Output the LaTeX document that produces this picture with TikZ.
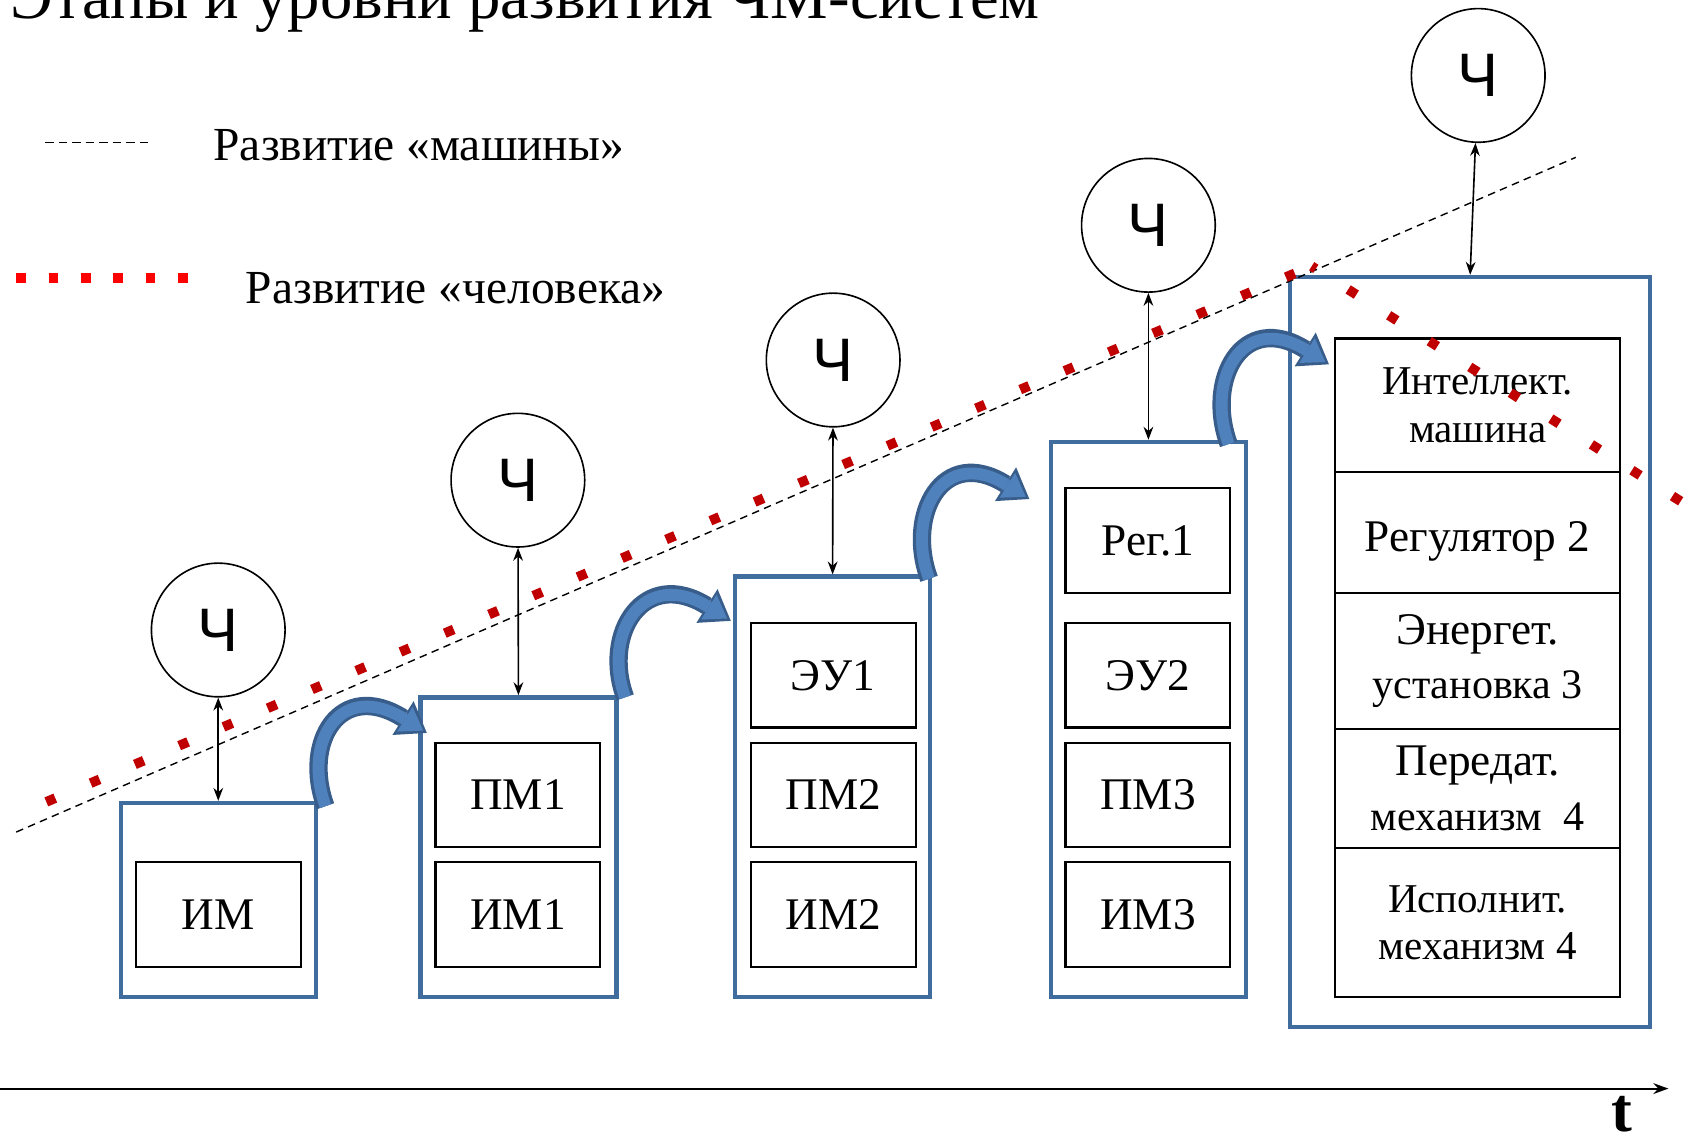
\documentclass[tikz,border=0pt]{standalone}
\usepackage{fontspec}
\setmainfont{Liberation Serif}
\newfontfamily\chfont{Liberation Sans}
\usetikzlibrary{arrows.meta}

\definecolor{stageblue}{RGB}{65,108,158}
\definecolor{jumpedge}{RGB}{56,93,138}
\definecolor{jumpfill}{RGB}{79,129,189}
\definecolor{growred}{RGB}{192,0,0}
\definecolor{legred}{RGB}{255,0,0}

\newcommand\bigtxt{\fontsize{42}{46}\selectfont}

\begin{document}
\begin{tikzpicture}[x=1pt,y=-1pt,
  stage/.style={draw=stageblue,line width=4pt,inner sep=0pt},
  part/.style={draw,line width=2pt,inner sep=0pt,align=center},
  cell/.style={part,minimum width=153pt,minimum height=97pt,
    font=\fontsize{42}{46}\selectfont},
  bigcell/.style={part,minimum width=264pt,font=\fontsize{38}{44}\selectfont},
  man/.style={circle,draw,line width=1.5pt,minimum size=124pt,inner sep=0pt,
    font=\chfont\fontsize{57}{57}\selectfont},
  link/.style={line width=1.5pt,
    {Stealth[length=12pt,width=9pt]}-{Stealth[length=12pt,width=9pt]}},
  machline/.style={line width=1.3pt,dash pattern=on 7pt off 5pt},
  humanline/.style={growred,line width=9pt,dash pattern=on 9pt off 35.6pt},
  jump/.style={jumpedge,line width=17pt,
    -{Triangle[length=26pt,width=37pt,line width=0pt]}},
  jumpin/.style={jumpfill,line width=11pt,shorten >=4pt,
    -{Triangle[length=20pt,width=27pt,line width=0pt]}},
  legend/.style={anchor=base west,inner sep=0pt,font=\fontsize{44}{44}\selectfont}]

  \useasboundingbox (0,0) rectangle (1568,1056);
  \clip (0,0) rectangle (1568,1056);

  % heading, cut by the page top
  \node[anchor=base west,inner sep=0pt,font=\fontsize{60}{60}\selectfont] (title)
    at (10,17) {Этапы и уровни развития ЧМ-систем};

  % legend
  \coordinate (lm1) at (42,132);
  \coordinate (lm2) at (140,132);
  \draw[line width=1.4pt,dash pattern=on 8pt off 4.5pt] (lm1) -- (lm2);
  \node[legend] (lmtext) at (198,149) {Развитие «машины»};
  \coordinate (lh1) at (15,258);
  \coordinate (lh2) at (174,258);
  \draw[legred,line width=9pt,dash pattern=on 9pt off 21pt] (lh1) -- (lh2);
  \node[legend] (lhtext) at (228,282) {Развитие «человека»};

  % stages of the machine
  \node[stage,minimum width=181pt,minimum height=180pt] (m1) at (202.5,835) {};
  \node[stage,minimum width=182pt,minimum height=278pt] (m2) at (481,786) {};
  \node[stage,minimum width=181pt,minimum height=390pt] (m3) at (772.5,730) {};
  \node[stage,minimum width=181pt,minimum height=515pt] (m4) at (1065.5,667.5) {};
  \node[stage,minimum width=334pt,minimum height=696pt] (m5) at (1364,605) {};

  \node[cell] (im0) at (202.5,848.5) {ИМ};

  \node[cell] (pm1) at (480.5,737.5) {ПМ1};
  \node[cell] (im1) at (480.5,848.5) {ИМ1};

  \node[cell] (eu1) at (773,626.5) {ЭУ1};
  \node[cell] (pm2) at (773,737.5) {ПМ2};
  \node[cell] (im2) at (773,848.5) {ИМ2};

  \node[cell] (rg1) at (1065,501.5) {Рег.1};
  \node[cell] (eu2) at (1065,626.5) {ЭУ2};
  \node[cell] (pm3) at (1065,737.5) {ПМ3};
  \node[cell] (im3) at (1065,848.5) {ИМ3};

  \node[bigcell,minimum height=124pt] (ai) at (1371,376) {Интеллект.\\машина};
  \node[bigcell,minimum height=112pt] (rg2) at (1371,494)
    {\bigtxt\rule{0pt}{44pt}Регулятор 2};
  \node[bigcell,minimum height=126pt] (eu3) at (1371,613)
    {{\bigtxt Энергет.}\\[6pt]{\fontsize{39}{44}\selectfont установка 3}};
  \node[bigcell,minimum height=111pt] (pm4) at (1371,731.5)
    {{\bigtxt Передат.}\\[7pt]{\fontsize{39}{44}\selectfont механизм\ \ 4}};
  \node[bigcell,minimum height=138pt] (im4) at (1371,856) {Исполнит.\\механизм 4};

  % operators
  \foreach \i/\x/\y in {1/202.5/584.5, 2/480.5/445.5, 3/773/334,
                        4/1065.5/209, 5/1371.5/70}
    \node[man] (h\i) at (\x,\y) {Ч};
  \foreach \i in {1,...,5}
    \draw[link] (h\i) -- (m\i.north);

  % jumps from one stage to the next
  \foreach \i/\ax/\ay/\bx/\by in {1/302/748/396/680, 2/580/647/678/576,
                                  3/862/537/955/463, 4/1140/412/1233/338} {
    \coordinate (ja\i) at (\ax,\ay);
    \coordinate (jb\i) at (\bx,\by);
    \draw[jump] (ja\i) .. controls +(-22,-60) and +(-80,-50) .. (jb\i);
    \draw[jumpin] (ja\i) .. controls +(-22,-60) and +(-80,-50) .. (jb\i);
  }

  % growth lines
  \coordinate (ma) at (15,772);
  \coordinate (mb) at (1462,146);
  \draw[machline] (ma) -- (mb);
  \coordinate (ha) at (43,744);
  \coordinate (hb) at (1217,247);
  \coordinate (hc) at (1600,491);
  \draw[humanline] (ha) -- (hb);
  \draw[humanline,dash phase=4.5pt] (hb) -- (hc);

  % time axis
  \coordinate (t0) at (0,1010);
  \coordinate (t1) at (1548,1010);
  \draw[line width=2pt,-{Stealth[length=14pt,width=10pt]}] (t0) -- (t1);
  \node[anchor=base,inner sep=0pt,font=\fontsize{58}{58}\selectfont\bfseries] (tt)
    at (1505,1050) {t};
\end{tikzpicture}
\end{document}
